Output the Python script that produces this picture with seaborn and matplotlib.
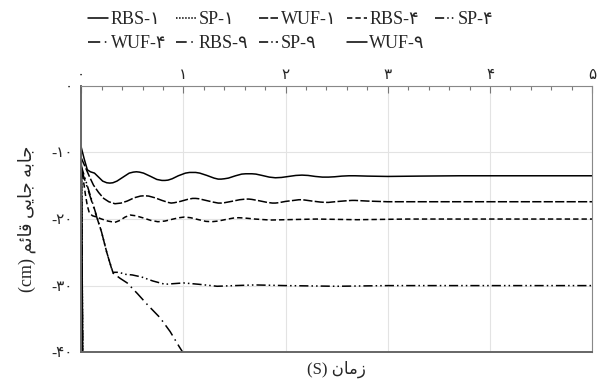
import numpy as np
import pandas as pd
import matplotlib
matplotlib.use("Agg")
import matplotlib.pyplot as plt
from matplotlib.ticker import MultipleLocator
import seaborn as sns

# ---- data (time in s, displacement in cm) ----
RBS1_T = [0, 0.03, 0.06, 0.09, 0.13, 0.17, 0.21, 0.25, 0.28, 0.31, 0.35, 0.41, 0.47,
          0.51, 0.54, 0.57, 0.61, 0.68, 0.74, 0.79, 0.82, 0.85, 0.89, 0.95, 1.02,
          1.06, 1.09, 1.12, 1.16, 1.23, 1.30, 1.34, 1.37, 1.40, 1.44, 1.51, 1.57,
          1.61, 1.64, 1.67, 1.71, 1.77, 1.84, 1.9, 1.96, 2.03, 2.1, 2.16, 2.22, 2.29,
          2.36, 2.42, 2.48, 2.55, 2.62, 2.68, 2.8, 3.0, 3.3, 3.7, 4.2, 5.0]
RBS1_V = [-9.2, -11.0, -12.6, -12.9, -13.1, -13.7, -14.3, -14.55, -14.6, -14.55, -14.3,
          -13.7, -13.1, -12.95, -12.9, -12.95, -13.1, -13.6, -14.05, -14.2, -14.2,
          -14.15, -13.95, -13.5, -13.1, -13.0, -13.0, -13.0, -13.1, -13.45, -13.85,
          -14.0, -14.0, -13.95, -13.85, -13.5, -13.25, -13.2, -13.2, -13.2, -13.25,
          -13.45, -13.7, -13.8, -13.75, -13.6, -13.45, -13.4, -13.45, -13.6, -13.7,
          -13.7, -13.65, -13.55, -13.5, -13.5, -13.55, -13.6, -13.55, -13.5, -13.5,
          -13.5]

WUF1_T = [0, 0.04, 0.08, 0.12, 0.17, 0.22, 0.27, 0.33, 0.39, 0.45, 0.52, 0.58, 0.62,
          0.66, 0.72, 0.79, 0.85, 0.88, 0.91, 0.97, 1.04, 1.09, 1.12, 1.15, 1.22,
          1.29, 1.34, 1.37, 1.40, 1.47, 1.55, 1.61, 1.64, 1.67, 1.74, 1.82, 1.87, 1.9,
          1.93, 2.0, 2.08, 2.13, 2.16, 2.19, 2.26, 2.34, 2.39, 2.42, 2.45, 2.52, 2.6,
          2.65, 2.68, 2.8, 3.0, 3.4, 4.0, 5.0]
WUF1_V = [-10.8, -12.2, -13.6, -14.9, -16.0, -16.9, -17.4, -17.7, -17.6, -17.3, -16.8,
          -16.55, -16.5, -16.55, -16.8, -17.2, -17.5, -17.6, -17.55, -17.35, -17.05,
          -16.9, -16.9, -16.95, -17.2, -17.45, -17.6, -17.6, -17.55, -17.35, -17.1,
          -17.0, -17.0, -17.05, -17.25, -17.5, -17.6, -17.6, -17.55, -17.35, -17.2,
          -17.1, -17.1, -17.15, -17.3, -17.45, -17.5, -17.5, -17.45, -17.35, -17.25,
          -17.2, -17.2, -17.3, -17.4, -17.4, -17.4, -17.4]

RBS4_T = [0, 0.02, 0.04, 0.06, 0.08, 0.11, 0.15, 0.2, 0.26, 0.33, 0.38, 0.43, 0.48,
          0.53, 0.6, 0.68, 0.75, 0.82, 0.9, 0.96, 1.01, 1.07, 1.15, 1.22, 1.28, 1.34,
          1.42, 1.49, 1.54, 1.6, 1.7, 1.85, 2.0, 2.3, 2.7, 3.2, 4.0, 5.0]
RBS4_V = [-12.0, -14.0, -16.2, -18.0, -19.1, -19.5, -19.7, -20.0, -20.3, -20.5, -20.2,
          -19.7, -19.4, -19.5, -19.8, -20.2, -20.4, -20.3, -20.0, -19.8, -19.7, -19.8,
          -20.1, -20.35, -20.4, -20.3, -20.05, -19.85, -19.8, -19.85, -20.0, -20.15,
          -20.1, -20.0, -20.1, -20.0, -20.0, -20.0]

SP4_T = [0, 0.05, 0.1, 0.15, 0.2, 0.25, 0.31, 0.37, 0.43, 0.5, 0.59, 0.7, 0.82, 1.0,
         1.15, 1.33, 1.5, 1.7, 2.0, 2.5, 3.0, 4.0, 5.0]
SP4_V = [-12.0, -14.5, -17.0, -19.5, -22.0, -25.0, -28.0, -28.0, -28.3, -28.4, -28.7,
         -29.3, -29.8, -29.6, -29.8, -30.1, -30.0, -29.9, -30.0, -30.1, -30.0, -30.0,
         -30.0]

WUF4_T = [0, 0.05, 0.1, 0.15, 0.2, 0.25, 0.31, 0.38, 0.45, 0.55, 0.65, 0.77, 0.87,
          0.96, 1.01]
WUF4_V = [-12.5, -14.8, -17.2, -19.6, -22.0, -25.0, -28.1, -28.9, -29.6, -31.2, -32.9,
          -34.8, -36.9, -39.2, -40.4]

STEEP_T = [0, 0.006, 0.012, 0.016]
SP1_V = [-10.5, -18.0, -33.0, -45.0]
RBS9_V = [-11.0, -20.0, -35.0, -46.0]
SP9_V = [-11.5, -21.0, -36.0, -47.0]
WUF9_V = [-10.0, -19.0, -34.0, -45.0]

LABELS = ["RBS-۱", "SP-۱", "WUF-۱", "RBS-۴", "SP-۴",
          "WUF-۴", "RBS-۹", "SP-۹", "WUF-۹"]
X_TICKS = [0, 1, 2, 3, 4, 5]
X_TICK_LABELS = ["۰", "۱", "۲", "۳", "۴", "۵"]
Y_TICKS = [0, -10, -20, -30, -40]
Y_TICK_LABELS = ["۰", "-۱۰", "-۲۰", "-۳۰", "-۴۰"]

# pre-shaped (presentation forms, visual order) persian labels
X_LABEL = "(S) ﻥﺎﻣﺯ"
Y_LABEL = "(cm) ﻢﺋﺎﻗ ﻰﻳﺎﺟ ﻪﺑﺎﺟ"

SERIES = {
    "RBS-۱": (RBS1_T, RBS1_V),
    "SP-۱": (STEEP_T, SP1_V),
    "WUF-۱": (WUF1_T, WUF1_V),
    "RBS-۴": (RBS4_T, RBS4_V),
    "SP-۴": (SP4_T, SP4_V),
    "WUF-۴": (WUF4_T, WUF4_V),
    "RBS-۹": (STEEP_T, RBS9_V),
    "SP-۹": (STEEP_T, SP9_V),
    "WUF-۹": (STEEP_T, WUF9_V),
}
DASHES = {
    "RBS-۱": "",
    "SP-۱": (1, 1),
    "WUF-۱": (6, 1.5),
    "RBS-۴": (3.5, 2),
    "SP-۴": (6, 2, 1, 2, 1, 2),
    "WUF-۴": (8, 3, 1, 3),
    "RBS-۹": (7, 3, 1, 3),
    "SP-۹": (6, 2, 1, 2),
    "WUF-۹": "",
}

sns.set_theme(style="whitegrid")
plt.rcParams["font.family"] = ["Liberation Serif", "DejaVu Sans"]

fig = plt.figure(figsize=(5.97, 3.87), dpi=100)
ax = fig.add_axes([0.136, 0.09, 0.856, 0.688])

frames = []
for name, (t, v) in SERIES.items():
    frames.append(pd.DataFrame({"t": t, "v": v, "series": name}))
df = pd.concat(frames, ignore_index=True)

sns.lineplot(data=df, x="t", y="v", hue="series", style="series",
             hue_order=LABELS, style_order=LABELS,
             palette=["black"] * len(LABELS), dashes=DASHES,
             sort=False, estimator=None, linewidth=1.1, legend=False, ax=ax)

ax.set_xlim(0, 5)
ax.set_ylim(-40, 0)
ax.set_xticks(X_TICKS)
ax.set_xticklabels(X_TICK_LABELS, fontsize=11)
ax.set_yticks(Y_TICKS)
ax.set_yticklabels(Y_TICK_LABELS, fontsize=11)
ax.xaxis.set_minor_locator(MultipleLocator(0.2))
ax.xaxis.tick_top()
ax.tick_params(axis="x", which="major", direction="in", length=5, width=0.8,
               color="#777777", pad=3, top=True, bottom=False)
ax.tick_params(axis="x", which="minor", direction="in", length=3, width=0.8,
               color="#777777", top=True, bottom=False)
ax.tick_params(axis="y", length=0, pad=6)
ax.grid(True, which="major", color="#e3e3e3", linewidth=0.8)
ax.grid(False, which="minor")

for side in ["top", "right"]:
    ax.spines[side].set_color("#888888")
    ax.spines[side].set_linewidth(0.8)
for side in ["left", "bottom"]:
    ax.spines[side].set_color("#666666")
    ax.spines[side].set_linewidth(1.4)

ax.xaxis.set_label_position("bottom")
ax.set_xlabel(X_LABEL, fontsize=12, labelpad=6)
ax.set_ylabel(Y_LABEL, fontsize=13, labelpad=11)

# legend filled row by row (matplotlib fills columns first)
LEGEND_ORDER = [0, 5, 1, 6, 2, 7, 3, 8, 4]
handles = [plt.Line2D([0], [0], color="black", linewidth=1.1,
                      linestyle=(0, DASHES[LABELS[i]]) if DASHES[LABELS[i]] else "-")
           for i in LEGEND_ORDER]
fig.legend(handles, [LABELS[i] for i in LEGEND_ORDER], ncol=5, loc="upper left",
           bbox_to_anchor=(0.13, 1.0), frameon=False, fontsize=13,
           handlelength=1.1, handletextpad=0.15, columnspacing=0.55,
           labelspacing=0.4, borderaxespad=0.2)

fig.savefig("out.png", dpi=100)
